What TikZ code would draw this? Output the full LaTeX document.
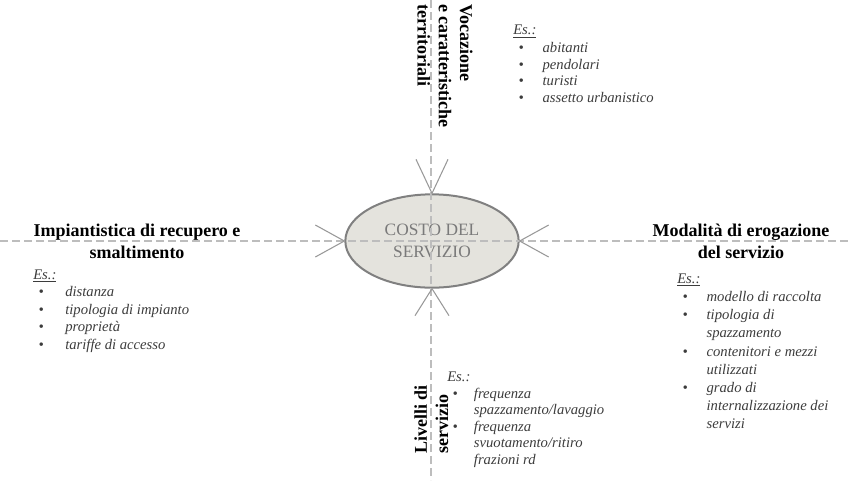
\documentclass[tikz,border=0pt]{standalone}
\usepackage{fontspec}
\setmainfont{Liberation Serif}
\usepackage{array}
\usepackage{tikz}
\usetikzlibrary{positioning,shapes.geometric}
\definecolor{costfill}{HTML}{E4E3DD}
\definecolor{costdraw}{HTML}{808080}
\definecolor{axisgray}{HTML}{BDBDBD}
\definecolor{listgray}{HTML}{3C3C3C}
\newcommand{\bul}{\hspace*{4pt}\textbullet}
\tikzset{
  every picture/.style = {
    x = 0.75pt,
    y = -0.75pt,
  }
  , % central ellipse
  cost/.style = {
    ellipse,
    draw = costdraw,
    fill = costfill,
    line width = 1.5pt,
    minimum width = 130pt,
    minimum height = 70pt,
    align = center,
    text = black!52,
    font = \fontsize{13}{16}\selectfont
  }
  , % dashed axes
  axis-line/.style = {
    draw = axisgray,
    line width = 0.8pt,
    dash pattern = on 6pt off 3pt
  }
  , % open arrow heads on the ellipse
  barb/.style = {
    draw = black!40,
    line width = 0.8pt
  }
  , % bold headings
  label-head/.style = {
    font = \fontsize{13.5}{16}\selectfont\bfseries,
    inner sep = 0pt
  }
  , % lists of examples
  label-list/.style = {
    font = \fontsize{11}{12}\selectfont\itshape,
    text = listgray,
    inner sep = 0pt,
    anchor = north west
  }
}

\begin{document}
\begin{tikzpicture}
  \useasboundingbox (0,0) rectangle (851,480);

  \node [cost] (cost) at (432,241) {COSTO DEL\\SERVIZIO};

  \coordinate (ax-w) at (0,241);
  \coordinate (ax-e) at (851,241);
  \coordinate (ax-n) at (431,0);
  \coordinate (ax-s) at (431,480);
  \draw [axis-line] (ax-w) -- (ax-e);
  \draw [axis-line] (ax-n) -- (ax-s);

  % open heads
  \draw [barb] ([shift={(-16,-34)}]cost.north) -- (cost.north) -- ([shift={(16,-34)}]cost.north);
  \draw [barb] ([shift={(-17,27)}]cost.south) -- (cost.south) -- ([shift={(17,27)}]cost.south);
  \draw [barb] ([shift={(-29,-16)}]cost.west) -- (cost.west) -- ([shift={(-29,16)}]cost.west);
  \draw [barb] ([shift={(29,-16)}]cost.east) -- (cost.east) -- ([shift={(29,16)}]cost.east);

  % headings
  \node [label-head, rotate=-90, anchor=north west, align=left] (voc) at (473,4)
    {Vocazione\\e caratteristiche\\territoriali};
  \node [label-head, align=center, anchor=base] (plant) at (137,258)
    {Impiantistica di recupero e\\smaltimento};
  \node [label-head, align=center, anchor=base] (mode) at (741,258)
    {Modalit\`a di erogazione\\del servizio};
  \node [label-head, rotate=90, anchor=north west, align=left] (level) at (414,454)
    {Livelli di\\servizio};

  % examples
  \renewcommand{\arraystretch}{1.03}
  \node [label-list] (voc-list) at (513,23) {%
    \begin{tabular}{@{}p{22pt}@{}l@{}}
      \multicolumn{2}{@{}l}{\underline{Es.:}}\\[1pt]
      \bul & abitanti\\
      \bul & pendolari\\
      \bul & turisti\\
      \bul & assetto urbanistico
    \end{tabular}};
  \node [label-list] (plant-list) at (33,267) {%
    \renewcommand{\arraystretch}{1.09}%
    \begin{tabular}{@{}p{24pt}@{}l@{}}
      \multicolumn{2}{@{}l}{\underline{Es.:}}\\
      \bul & distanza\\
      \bul & tipologia di impianto\\
      \bul & propriet\`a\\
      \bul & tariffe di accesso
    \end{tabular}};
  \node [label-list] (mode-list) at (677,270) {%
    \renewcommand{\arraystretch}{1.14}%
    \begin{tabular}{@{}p{22pt}@{}l@{}}
      \multicolumn{2}{@{}l}{\underline{Es.:}}\\
      \bul & modello di raccolta\\
      \bul & tipologia di\\
           & spazzamento\\
      \bul & contenitori e mezzi\\
           & utilizzati\\
      \bul & grado di\\
           & internalizzazione dei\\
           & servizi
    \end{tabular}};
  \node [label-list] (level-list) at (447,370) {%
    \begin{tabular}{@{}p{20pt}@{}l@{}}
      \multicolumn{2}{@{}l}{Es.:}\\
      \bul & frequenza\\
           & spazzamento/lavaggio\\
      \bul & frequenza\\
           & svuotamento/ritiro\\
           & frazioni rd
    \end{tabular}};
\end{tikzpicture}
\end{document}
